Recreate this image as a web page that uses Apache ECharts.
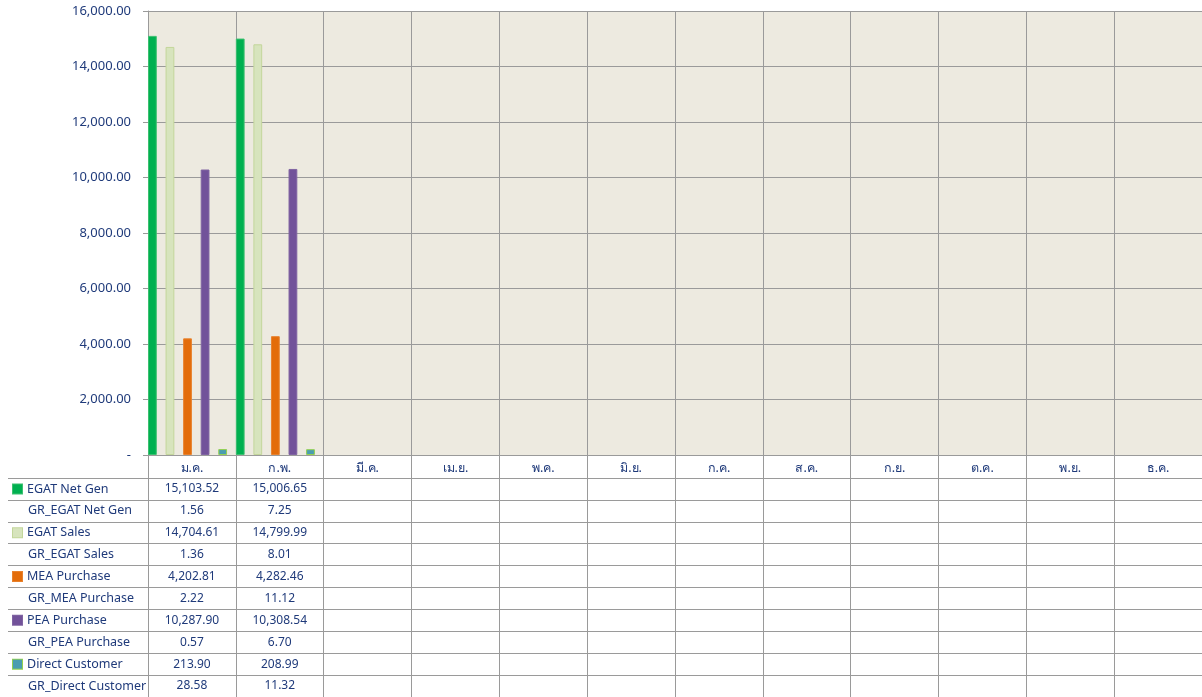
<!DOCTYPE html>
<html>
<head>
  <meta charset="utf-8">
  <title>EGAT chart</title>
  <script src="https://cdn.jsdelivr.net/npm/echarts@6/dist/echarts.min.js"></script>
  <style>
    body { margin: 0; padding: 0; background: #fff; }
    #main { width: 1202px; height: 697px; }
  </style>
</head>
<body>
<div id="main"></div>
<script>
// months (header row of the table)
var months = ['ม.ค.', 'ก.พ.', 'มี.ค.', 'เม.ย.', 'พ.ค.', 'มิ.ย.', 'ก.ค.', 'ส.ค.', 'ก.ย.', 'ต.ค.', 'พ.ย.', 'ธ.ค.'];

// series values, only Jan and Feb are filled
var egatNetGen = [15103.52, 15006.65];
var grEgatNetGen = [1.56, 7.25];
var egatSales = [14704.61, 14799.99];
var grEgatSales = [1.36, 8.01];
var meaPurchase = [4202.81, 4282.46];
var grMeaPurchase = [2.22, 11.12];
var peaPurchase = [10287.90, 10308.54];
var grPeaPurchase = [0.57, 6.70];
var directCustomer = [213.90, 208.99];
var grDirectCustomer = [28.58, 11.32];

var yTicks = [0, 2000, 4000, 6000, 8000, 10000, 12000, 14000, 16000];

var rows = [
  { name: 'EGAT Net Gen', data: egatNetGen, color: '#00B050', border: '#3CC070', key: 'k1' },
  { name: 'GR_EGAT Net Gen', data: grEgatNetGen, color: 'transparent', key: null },
  { name: 'EGAT Sales', data: egatSales, color: '#D7E4BD', border: '#C3D69B', key: 'k2' },
  { name: 'GR_EGAT Sales', data: grEgatSales, color: 'transparent', key: null },
  { name: 'MEA Purchase', data: meaPurchase, color: '#E36C0A', border: '#E8822E', key: 'k3' },
  { name: 'GR_MEA Purchase', data: grMeaPurchase, color: 'transparent', key: null },
  { name: 'PEA Purchase', data: peaPurchase, color: '#72529A', border: '#8064A2', key: 'k4' },
  { name: 'GR_PEA Purchase', data: grPeaPurchase, color: 'transparent', key: null },
  { name: 'Direct Customer', data: directCustomer, color: '#4A9DB0', border: '#92D050', key: 'k5' },
  { name: 'GR_Direct Customer', data: grDirectCustomer, color: 'transparent', key: null }
];

var textColor = '#1F3A7A';
var lineColor = '#9A9A9A';
var fontFam = 'Tahoma, "Noto Sans", "DejaVu Sans", sans-serif';

function fmt(v) {
  return v.toLocaleString('en-US', { minimumFractionDigits: 2, maximumFractionDigits: 2 });
}

// table cells
var cells = [];
rows.forEach(function (r, ri) {
  r.data.forEach(function (v, mi) {
    cells.push({ value: [mi, ri], text: fmt(v) });
  });
});

var rich = { t: { color: textColor, fontSize: 12.5, fontFamily: fontFam }, n: { width: 10, height: 10 }, sp: { width: 5 } };
rows.forEach(function (r) {
  if (r.key) {
    rich[r.key] = { width: 9, height: 9, backgroundColor: r.color, borderColor: r.border, borderWidth: 1 };
  }
});

var series = rows.map(function (r) {
  return {
    name: r.name,
    type: 'bar',
    xAxisIndex: 0,
    yAxisIndex: 0,
    barGap: '0%',
    barCategoryGap: '0%',
    data: r.data,
    itemStyle: {
      color: r.color,
      borderColor: r.key ? r.border : 'transparent',
      borderWidth: r.key ? 1 : 0
    },
    silent: true
  };
});

series.push({
  type: 'custom',
  xAxisIndex: 1,
  yAxisIndex: 1,
  data: cells.map(function (c) { return c.value; }),
  renderItem: function (params, api) {
    var p = api.coord([api.value(0), api.value(1)]);
    return {
      type: 'text',
      x: p[0],
      y: p[1],
      style: {
        text: cells[params.dataIndex].text,
        fill: textColor,
        font: '12px ' + fontFam,
        align: 'center',
        verticalAlign: 'middle'
      }
    };
  },
  silent: true
});

var chart = echarts.init(document.getElementById('main'));
chart.setOption({
  animation: false,
  textStyle: { fontFamily: fontFam },
  grid: [
    { left: 148, top: 11, width: 1056, height: 444, show: true, backgroundColor: '#EDEAE0', borderWidth: 0 },
    { left: 148, top: 478, width: 1056, height: 220, show: false }
  ],
  xAxis: [
    {
      type: 'category',
      gridIndex: 0,
      data: months,
      axisLine: { show: true, lineStyle: { color: lineColor } },
      axisTick: { show: true, length: 23, lineStyle: { color: lineColor } },
      axisLabel: { color: textColor, fontSize: 12.5, margin: 7, fontFamily: fontFam },
      splitLine: { show: true, lineStyle: { color: lineColor } }
    },
    {
      type: 'category',
      gridIndex: 1,
      data: months,
      axisLine: { show: false },
      axisTick: { show: false },
      axisLabel: { show: false },
      splitLine: { show: true, lineStyle: { color: lineColor } }
    }
  ],
  yAxis: [
    {
      type: 'value',
      gridIndex: 0,
      min: yTicks[0],
      max: yTicks[yTicks.length - 1],
      interval: yTicks[1] - yTicks[0],
      axisLine: { show: true, lineStyle: { color: lineColor } },
      axisTick: { show: true, length: 5, lineStyle: { color: lineColor } },
      axisLabel: {
        color: textColor,
        fontSize: 13,
        margin: 17,
        fontFamily: fontFam,
        formatter: function (v) { return v === 0 ? '-' : fmt(v); }
      },
      splitLine: { show: true, lineStyle: { color: lineColor } }
    },
    {
      type: 'category',
      gridIndex: 1,
      inverse: true,
      data: rows.map(function (r) { return r.name; }),
      axisLine: { show: true, lineStyle: { color: lineColor } },
      axisTick: { show: true, length: 140, lineStyle: { color: lineColor } },
      axisLabel: {
        align: 'left',
        margin: 135,
        formatter: function (name, i) {
          var r = rows[i];
          return (r.key ? '{' + r.key + '|}' : '{n|}') + '{sp|}{t|' + name + '}';
        },
        rich: rich
      },
      splitLine: { show: true, lineStyle: { color: lineColor } }
    },
    {
      type: 'category',
      gridIndex: 1,
      inverse: true,
      offset: 140,
      data: rows.map(function (r) { return r.name; }),
      axisLine: { show: true, lineStyle: { color: lineColor } },
      axisTick: { show: false },
      axisLabel: { show: false },
      splitLine: { show: false }
    }
  ],
  series: series
});
</script>
</body>
</html>
